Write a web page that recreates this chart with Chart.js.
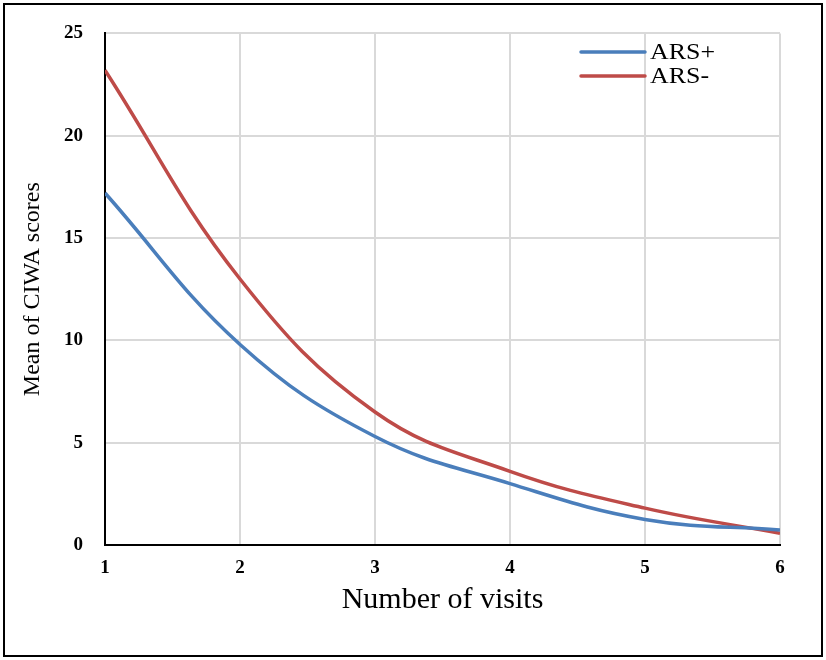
<!DOCTYPE html>
<html><head><meta charset="utf-8">
<script src="https://cdn.jsdelivr.net/npm/chart.js@4"></script>
<style>
html,body{margin:0;padding:0;background:#fff;}
#wrap{position:relative;width:826px;height:660px;}
#frame{position:absolute;left:3px;top:3px;width:816px;height:650px;border:2px solid #000;pointer-events:none;}
canvas{position:absolute;left:0;top:0;}
</style></head>
<body>
<div id="wrap"><canvas id="c" width="826" height="660"></canvas><div id="frame"></div></div>
<script>
const visits = [1, 2, 3, 4, 5, 6];
const arsPlus = [17.2, 9.8, 5.3, 3.0, 1.25, 0.73];
const arsMinus = [23.2, 13.0, 6.5, 3.6, 1.8, 0.57];
const yTicks = [0, 5, 10, 15, 20, 25];

const legendPlugin = {
  id: 'customLegend',
  afterDraw(chart) {
    const ctx = chart.ctx;
    ctx.save();
    chart.data.datasets.forEach((ds, i) => {
      const y = 52 + i * 24;
      ctx.strokeStyle = ds.borderColor;
      ctx.lineWidth = 3.5;
      ctx.lineCap = 'round';
      ctx.beginPath(); ctx.moveTo(581, y); ctx.lineTo(645, y); ctx.stroke();
      ctx.save();
      ctx.translate(650, y + 1);
      ctx.scale(1.08, 1);
      ctx.fillStyle = '#000';
      ctx.font = '24px "Liberation Serif"';
      ctx.textBaseline = 'middle';
      ctx.textAlign = 'left';
      ctx.fillText(ds.label, 0, 0);
      ctx.restore();
    });
    ctx.restore();
  }
};

new Chart(document.getElementById('c'), {
  type: 'line',
  data: {
    datasets: [
      { label: 'ARS+', data: visits.map((v, i) => ({x: v, y: arsPlus[i]})), borderColor: '#4a7ebb', borderWidth: 3.5, pointRadius: 0, tension: 0.4, fill: false },
      { label: 'ARS-', data: visits.map((v, i) => ({x: v, y: arsMinus[i]})), borderColor: '#be4b48', borderWidth: 3.5, pointRadius: 0, tension: 0.4, fill: false }
    ]
  },
  options: {
    responsive: false,
    animation: false,
    devicePixelRatio: 1,
    layout: { padding: { left: 14, top: 32, right: 46, bottom: 42 } },
    plugins: { legend: { display: false }, tooltip: { enabled: false } },
    scales: {
      x: {
        type: 'linear', min: 1, max: 6,
        ticks: { stepSize: 1, color: '#000', font: { family: 'Liberation Serif', size: 19, weight: 'bold' }, padding: 12 },
        grid: { color: '#d9d9d9', lineWidth: 2, drawTicks: false },
        border: { color: '#000', width: 2 },
        title: { display: true, text: 'Number of visits', color: '#000', font: { family: 'Liberation Serif', size: 30 }, padding: { top: 0, bottom: 0 } },
        afterFit(s) { s.height = 660 - 545 - 42; }
      },
      y: {
        min: 0, max: 25,
        afterBuildTicks(s) { s.ticks = yTicks.map(v => ({value: v})); },
        ticks: { color: '#000', font: { family: 'Liberation Serif', size: 19, weight: 'bold' }, padding: 22 },
        grid: { color: '#d9d9d9', lineWidth: 2, drawTicks: false },
        border: { color: '#000', width: 2 },
        title: { display: true, text: 'Mean of CIWA scores', color: '#000', font: { family: 'Liberation Serif', size: 24 }, padding: { bottom: 4 } },
        afterFit(s) { s.width = 105 - 14; }
      }
    }
  },
  plugins: [legendPlugin]
});
</script>
</body></html>
